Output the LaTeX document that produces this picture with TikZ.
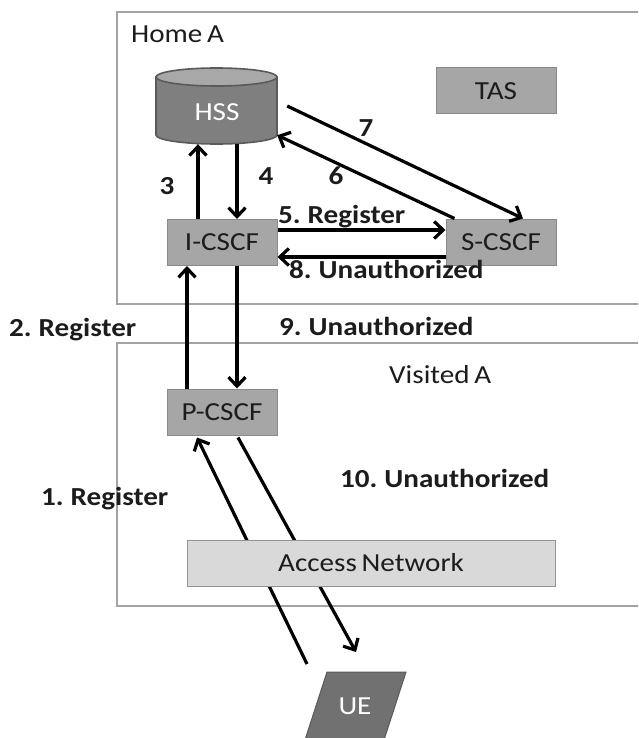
\documentclass[tikz,border=0pt]{standalone}
\usepackage{fontspec}
\setmainfont[FakeStretch=1.12, WordSpace=0.72]{Carlito}
\usetikzlibrary{arrows.meta}

\definecolor{framegray}{HTML}{A3A3A3}
\definecolor{unitfill}{HTML}{A6A6A6}
\definecolor{unitedge}{HTML}{8A8A8A}
\definecolor{netfill}{HTML}{D9D9D9}
\definecolor{netedge}{HTML}{949494}
\definecolor{dbbody}{HTML}{7F7F7F}
\definecolor{dbtop}{HTML}{A8A8A8}
\definecolor{dbedge}{HTML}{5A5A5A}
\definecolor{uefill}{HTML}{717171}
\definecolor{inkdark}{HTML}{1C1C1C}

\tikzset{
  frame/.style={draw=framegray, line width=2.2pt},
  unit/.style={draw=unitedge, fill=unitfill, line width=1pt, minimum width=110pt,
    minimum height=46pt, inner sep=0pt, text=inkdark},
  flow/.style={line width=3.2pt, draw=black,
    -{Straight Barb[length=9pt, width=17pt]}},
  lbl/.style={font=\fontsize{26}{30}\selectfont\bfseries, text=inkdark,
    anchor=base west, inner sep=0pt},
}

\begin{document}
\begin{tikzpicture}[x=1pt, y=-1pt, font=\fontsize{26}{30}\selectfont]
\useasboundingbox (0,0) rectangle (638,738);
\clip (0,0) rectangle (638,738);
\fill[white] (0,0) rectangle (638,738);

% domain frames
\draw[frame] (117,12) rectangle (660,304);
\draw[frame] (117,343) rectangle (660,606);
\node[anchor=base west, inner sep=0pt, text=inkdark] (homeA) at (131,43) {Home A};
\node[anchor=base west, inner sep=0pt, text=inkdark] (visitedA) at (389,383) {Visited A};

% HSS database
\filldraw[fill=dbbody, draw=dbedge, line width=1.6pt]
  (156,77) -- (156,135)
  arc[start angle=180, end angle=0, x radius=60.5, y radius=9]
  -- (277,77) -- cycle;
\filldraw[fill=dbtop, draw=dbedge, line width=1.6pt] (216.5,77) ellipse (60.5 and 9);
\node[minimum width=121pt, minimum height=76pt, inner sep=0pt] (hss) at (216.5,106) {};
\node[text=white] (hsslabel) at (217,112) {HSS};

% functional units
\node[unit, minimum width=120pt] (tas) at (496,91) {TAS};
\node[unit] (icscf) at (222,242.5) {I-CSCF};
\node[unit] (scscf) at (501,242) {S-CSCF};
\node[unit] (pcscf) at (222,412) {P-CSCF};

% UE terminal
\filldraw[fill=uefill, draw=dbedge, line width=1pt]
  (327,672) -- (406,672) -- (384,740) -- (305,740) -- cycle;
\node[text=white] (ue) at (355,706) {UE};
\coordinate (r1) at (307,664);
\coordinate (r10) at (356,652);

% message flows
\draw[flow] ([xshift=-24pt]icscf.north) -- ([xshift=-24pt]icscf.north |- hss.south);
\draw[flow] ([xshift=15pt]icscf.north |- hss.south) -- ([xshift=15pt]icscf.north);
\draw[flow] ([yshift=12.5pt]icscf.east) -- ([yshift=12.5pt]icscf.east -| scscf.west);
\draw[flow] ([yshift=-14.5pt]icscf.east -| scscf.west) -- ([yshift=-14.5pt]icscf.east);
\draw[flow] ([xshift=9pt]scscf.north west) -- ([yshift=9pt]hss.south east);
\draw[flow] ([xshift=10pt]hss.east) -- ([xshift=22pt]scscf.north);
\draw[flow] ([xshift=-35pt]pcscf.north) -- ([xshift=-35pt]icscf.south);
\draw[flow] ([xshift=15pt]icscf.south) -- ([xshift=15pt]pcscf.north);
\draw[flow] (r1) -- ([xshift=-25pt, yshift=-2pt]pcscf.south);
\draw[flow] ([xshift=16pt, yshift=-2pt]pcscf.south) -- (r10);

% access network sits over the radio links
\node[draw=netedge, fill=netfill, line width=1pt, minimum width=368pt,
  minimum height=46pt, inner sep=0pt, text=inkdark] (access) at (371,563) {Access Network};

% step labels
\node[lbl] (l1) at (41,505) {1. Register};
\node[lbl] (l2) at (9,336) {2. Register};
\node[lbl, anchor=base] (l3) at (167,194) {3};
\node[lbl, anchor=base] (l4) at (266,185) {4};
\node[lbl] (l5) at (278,223) {5. Register};
\node[lbl, anchor=base] (l6) at (336,185) {6};
\node[lbl, anchor=base] (l7) at (366,137) {7};
\node[lbl] (l8) at (289,278) {8. Unauthorized};
\node[lbl] (l9) at (279,335) {9. Unauthorized};
\node[lbl] (l10) at (340,487) {10. Unauthorized};
\end{tikzpicture}
\end{document}
